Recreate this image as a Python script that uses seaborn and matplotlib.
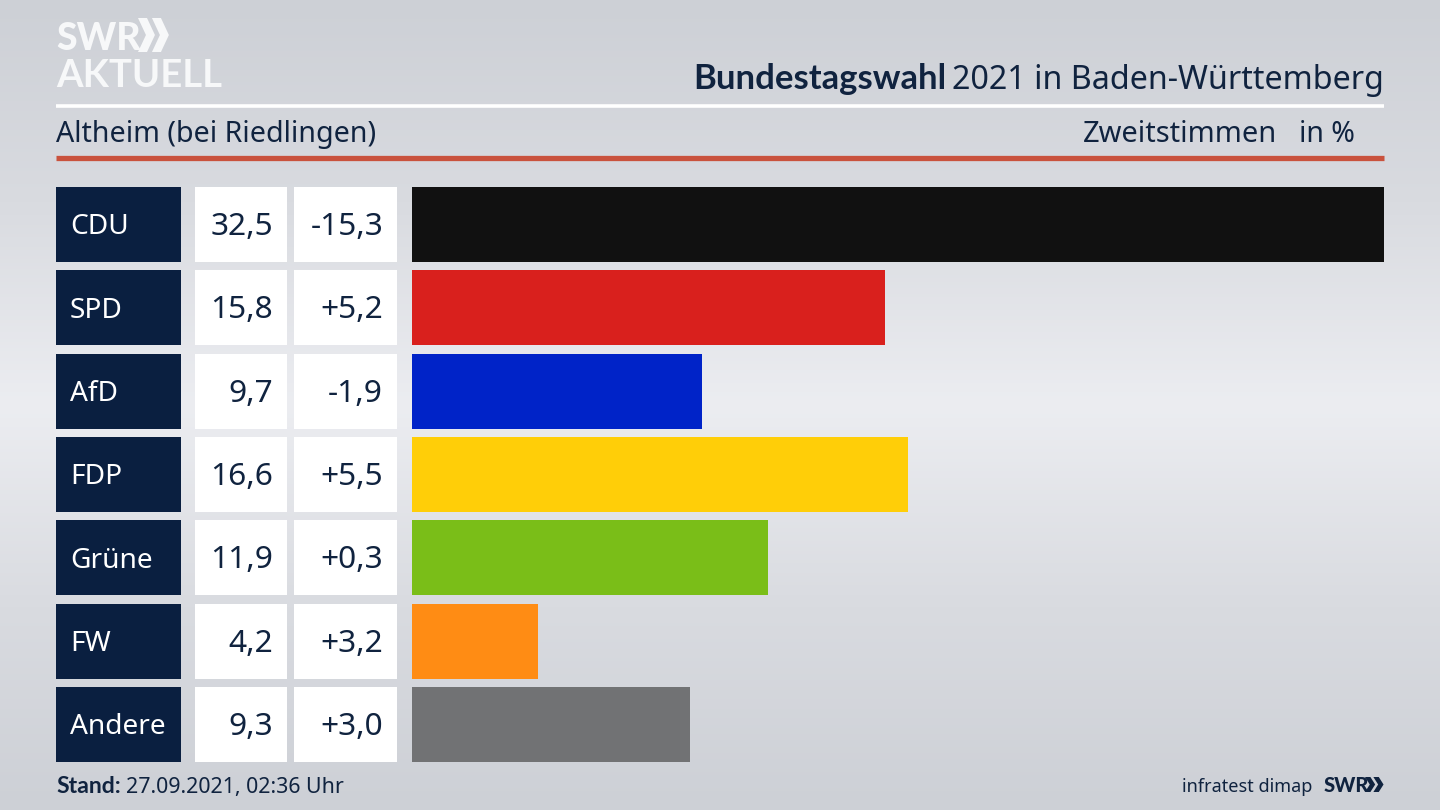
# -*- coding: utf-8 -*-
import numpy as np
import pandas as pd
import matplotlib
matplotlib.use("Agg")
import matplotlib.pyplot as plt
from matplotlib.colors import LinearSegmentedColormap
from matplotlib.patches import Polygon
import seaborn as sns

# Data
parties = ["CDU", "SPD", "AfD", "FDP", "Grüne", "FW", "Andere"]
shares = [32.5, 15.8, 9.7, 16.6, 11.9, 4.2, 9.3]
share_labels = ["32,5", "15,8", "9,7", "16,6", "11,9", "4,2", "9,3"]
diff_labels = ["-15,3", "+5,2", "-1,9", "+5,5", "+0,3", "+3,2", "+3,0"]
bar_colors = ["#111111", "#D9201D", "#0023C8", "#FFCE08", "#7ABE18", "#FF8C14", "#717274"]

NAVY = "#0A1F40"
TEXT = "#10233F"
FONT = "Noto Sans"
BOLD_FONT = "Lato"

sns.set_theme(style="white")
plt.rcParams["font.family"] = [FONT, "DejaVu Sans"]

W, H = 1440, 810
fig = plt.figure(figsize=(W / 100, H / 100), dpi=100)


def pixel_axes(left, top, right, bottom):
    a = fig.add_axes([left / W, 1 - bottom / H, (right - left) / W, (bottom - top) / H])
    a.patch.set_alpha(0)
    return a


# Background gradient, light band in the middle
bg_ax = pixel_axes(0, 0, W, H)
cmap = LinearSegmentedColormap.from_list("bg", ["#CDD0D6", "#D9DBE0", "#ECEDF1", "#D9DBE0", "#CDD0D6"])
bg_ax.imshow(np.linspace(0, 1, 256).reshape(-1, 1), aspect="auto", cmap=cmap, extent=[0, W, H, 0])
bg_ax.axis("off")

# Bars
df = pd.DataFrame({"party": parties, "share": shares})
ax = pixel_axes(412, 187, 1384, 762)
sns.barplot(data=df, x="share", y="party", hue="party", palette=bar_colors, order=parties,
            hue_order=parties, width=0.9, saturation=1, legend=False, linewidth=0, ax=ax)
ax.set_xlim(0, max(shares))
ax.set_ylim(6.45, -0.45)
ax.axis("off")

# Table columns next to the bars, x in pixels, y in rows
tb = pixel_axes(0, 187, W, 762)
rows = np.arange(len(parties))
tb.barh(rows, 125, left=56, height=0.9, color=NAVY, linewidth=0)
tb.barh(rows, 92, left=195, height=0.9, color="white", linewidth=0)
tb.barh(rows, 103, left=294, height=0.9, color="white", linewidth=0)
tb.set_xlim(0, W)
tb.set_ylim(6.45, -0.45)
tb.axis("off")
for i in rows:
    tb.text(70, i - 0.01, parties[i], color="white", fontsize=20.2, va="center_baseline", ha="left")
    tb.text(273, i - 0.01, share_labels[i], color=TEXT, fontsize=22.8, va="center_baseline", ha="right")
    tb.text(383, i - 0.01, diff_labels[i], color=TEXT, fontsize=22.8, va="center_baseline", ha="right")

# Header, footer, logo in pixel coordinates
ov = pixel_axes(0, 0, W, H)
ov.set_xlim(0, W)
ov.set_ylim(H, 0)
ov.axis("off")

ov.plot([56, 1384], [105.5, 105.5], color="white", lw=2.6, solid_capstyle="butt")
ov.plot([56, 1384], [157.5, 157.5], color="#C9523D", lw=3.8, solid_capstyle="butt")

ov.text(693, 89, "Bundestagswahl", color=TEXT, fontsize=24.9, family=BOLD_FONT, fontweight="bold", ha="left", va="baseline")
ov.text(1384, 89, "2021 in Baden-Württemberg", color=TEXT, fontsize=23.2, ha="right", va="baseline")
ov.text(56, 142, "Altheim (bei Riedlingen)", color=TEXT, fontsize=20.6, ha="left", va="baseline")
ov.text(1277, 142, "Zweitstimmen", color=TEXT, fontsize=20.9, ha="right", va="baseline")
ov.text(1355, 142, "in %", color=TEXT, fontsize=20.5, ha="right", va="baseline")

ov.text(56, 793, "Stand:", color=TEXT, fontsize=16.6, family=BOLD_FONT, fontweight="bold", ha="left", va="baseline")
ov.text(126, 793, "27.09.2021, 02:36 Uhr", color=TEXT, fontsize=15.4, ha="left", va="baseline")
ov.text(1312, 792, "infratest dimap", color=TEXT, fontsize=13, ha="right", va="baseline")
ov.text(1324, 792, "SWR", color=TEXT, fontsize=14.5, family=BOLD_FONT, fontweight="black", ha="left", va="baseline")

ov.text(56, 50, "SWR", color="#F7F8F9", fontsize=27, family=BOLD_FONT, fontweight="black", ha="left", va="baseline")
ov.text(56, 87, "AKTUELL", color="#F7F8F9", fontsize=27.5, family=BOLD_FONT, fontweight="bold", ha="left", va="baseline")


def chevrons(x, top, bottom, size, color):
    mid = (top + bottom) / 2
    for dx in (0, size * 0.93):
        ov.add_patch(Polygon([(x + dx, top), (x + dx + size * 0.6, top),
                              (x + dx + size * 1.13, mid), (x + dx + size * 0.6, bottom),
                              (x + dx, bottom), (x + dx + size * 0.53, mid)],
                             closed=True, facecolor=color, lw=0))


chevrons(138, 18, 52, 15, "#F7F8F9")
chevrons(1365, 777, 792, 9, TEXT)

fig.savefig("out.png", dpi=100)
